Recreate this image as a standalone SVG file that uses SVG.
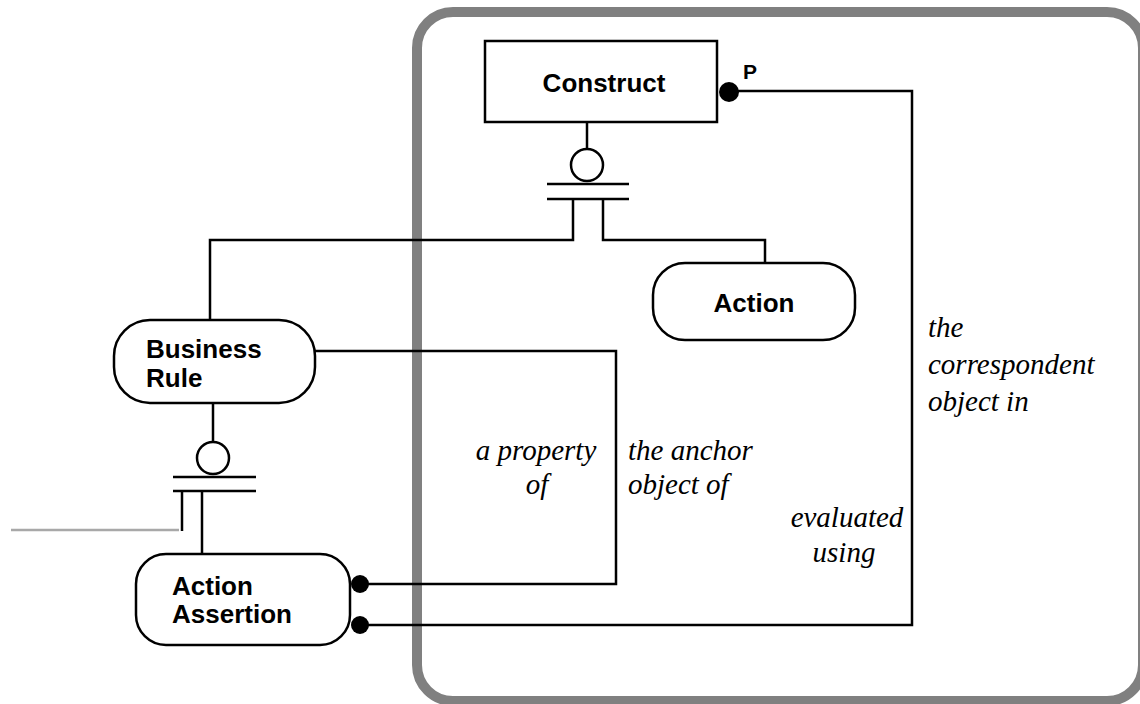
<svg xmlns="http://www.w3.org/2000/svg" width="1140" height="704" viewBox="0 0 1140 704">
  <style>
    .box { fill: #fff; stroke: #000; stroke-width: 2.5; }
    .ln { fill: none; stroke: #000; stroke-width: 2.5; }
    .lbl { font-family: "Liberation Sans", Arial, sans-serif; font-weight: bold; font-size: 26px; fill: #000; }
    .role { font-family: "Liberation Serif", "Times New Roman", serif; font-style: italic; font-size: 29px; fill: #000; }
    .dot { fill: #000; }
  </style>

  <rect width="1140" height="704" fill="#fff"/>

  <!-- subject area frame -->
  <rect id="frame" x="417" y="12" width="726" height="689" rx="36" ry="36" fill="none" stroke="#808080" stroke-width="10"/>

  <g id="connectors">
    <!-- Construct supertype: circle and double bar -->
    <line class="ln" x1="587" y1="122" x2="587" y2="149"/>
    <circle class="ln" cx="587" cy="165" r="16"/>
    <line class="ln" x1="547" y1="184" x2="629" y2="184"/>
    <line class="ln" x1="547" y1="199" x2="629" y2="199"/>
    <polyline class="ln" points="573,199 573,240 210,240 210,320"/>
    <polyline class="ln" points="603,199 603,240 765,240 765,263"/>

    <!-- Business Rule supertype: circle and double bar -->
    <line class="ln" x1="213" y1="403" x2="213" y2="442"/>
    <circle class="ln" cx="213" cy="458" r="16"/>
    <line class="ln" x1="173" y1="477" x2="256" y2="477"/>
    <line class="ln" x1="173" y1="491" x2="256" y2="491"/>
    <line class="ln" x1="182" y1="491" x2="182" y2="531"/>
    <line x1="11" y1="530" x2="179" y2="530" stroke="#a8a8a8" stroke-width="2.5"/>
    <line class="ln" x1="202" y1="491" x2="202" y2="554"/>

    <!-- Action Assertion relationships -->
    <polyline class="ln" points="360,584 616,584 616,351 315,351"/>
    <circle class="dot" cx="360" cy="584" r="9"/>
    <polyline class="ln" points="360,625 912,625 912,91 728,91"/>
    <circle class="dot" cx="360" cy="625" r="9"/>
    <circle class="dot" cx="729" cy="92" r="10"/>
  </g>

  <g id="construct">
    <rect class="box" x="485" y="41" width="232" height="81"/>
    <text class="lbl" x="604" y="92" text-anchor="middle">Construct</text>
    <text class="lbl" x="743" y="79" style="font-size:21px">P</text>
  </g>

  <g id="action">
    <rect class="box" x="653" y="263" width="202" height="77" rx="32" ry="32"/>
    <text class="lbl" x="754" y="312" text-anchor="middle">Action</text>
  </g>

  <g id="business-rule">
    <rect class="box" x="114" y="320" width="201" height="83" rx="36" ry="36"/>
    <text class="lbl" x="146" y="358">Business</text>
    <text class="lbl" x="146" y="387">Rule</text>
  </g>

  <g id="action-assertion">
    <rect class="box" x="136" y="554" width="214" height="91" rx="30" ry="30"/>
    <text class="lbl" x="172" y="595">Action</text>
    <text class="lbl" x="172" y="623">Assertion</text>
  </g>

  <g id="role-labels">
    <text class="role" x="536" y="460" text-anchor="middle">a property</text>
    <text class="role" x="537" y="494" text-anchor="middle">of</text>
    <text class="role" x="628" y="460">the anchor</text>
    <text class="role" x="628" y="494">object of</text>
    <text class="role" x="928" y="337">the</text>
    <text class="role" x="928" y="374">correspondent</text>
    <text class="role" x="928" y="411">object in</text>
    <text class="role" x="847" y="527" text-anchor="middle">evaluated</text>
    <text class="role" x="844" y="562" text-anchor="middle">using</text>
  </g>
</svg>
